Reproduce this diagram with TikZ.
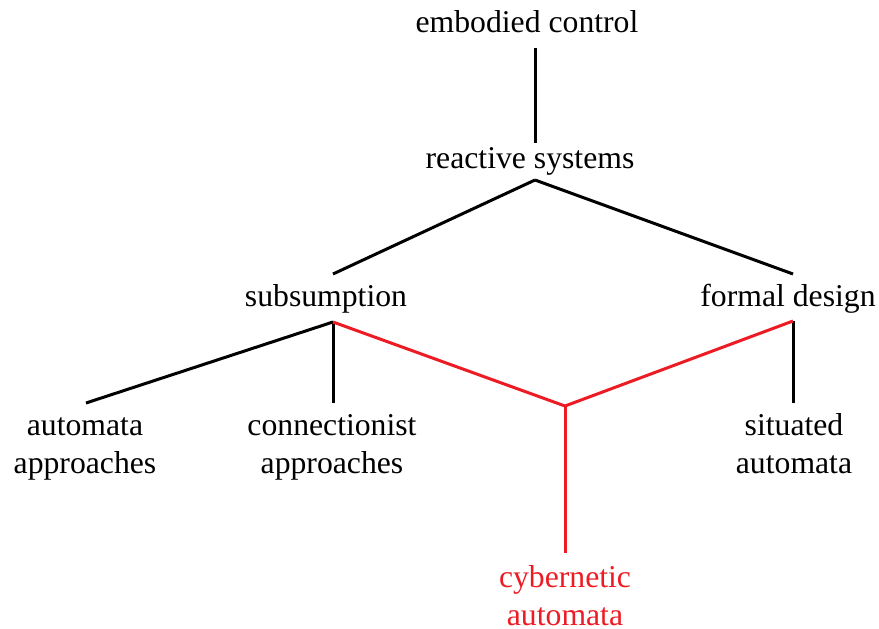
\documentclass[tikz,border=0pt]{standalone}
\usepackage{fontspec}
\setmainfont{Liberation Serif}
\usepackage{tikz}
\definecolor{hilite}{RGB}{237,28,36}

\begin{document}
\begin{tikzpicture}[x=1pt,y=-1pt,-,line width=3pt,
    label node/.style={anchor=base,inner sep=0pt,align=center,font=\fontsize{31.7}{38}\selectfont},
    red node/.style={label node,text=hilite},
    red edge/.style={draw=hilite,line join=miter}]

        \useasboundingbox (0,0) rectangle (879,629);

        \node[label node] (E) at (527,32) {embodied control};
        \node[label node] (R) at (530,168) {reactive systems};
        \node[label node] (S) at (326,306) {subsumption};
        \node[label node] (F) at (788,306) {formal design};
        \node[label node] (AA) at (85,473) {automata\\approaches};
        \node[label node] (CA) at (332,473) {connectionist\\approaches};
        \node[label node] (SA) at (794,473) {situated\\automata};
        \node[red node] (CY) at (565,625) {cybernetic\\automata};

        % line ends
        \coordinate (E-b) at (535,48);
        \coordinate (R-t) at (535,143);
        \coordinate (R-b) at (535,180);
        \coordinate (S-t) at (333,274);
        \coordinate (F-t) at (793,274);
        \coordinate (S-b) at (333,322);
        \coordinate (F-b) at (793,321);
        \coordinate (AA-t) at (86,403);
        \coordinate (CA-t) at (333,403);
        \coordinate (SA-t) at (793,403);
        \coordinate (J) at (565,406);
        \coordinate (CY-t) at (565,553);

        \path[draw]
        (E-b) edge (R-t)
        (R-b) edge (S-t)
              edge (F-t)
        (S-b) edge (AA-t)
              edge (CA-t)
        (F-b) edge (SA-t);

        \draw[red edge] (S-b) -- (J) -- (F-b);
        \draw[red edge] (J) -- (CY-t);
    \end{tikzpicture}
\end{document}
